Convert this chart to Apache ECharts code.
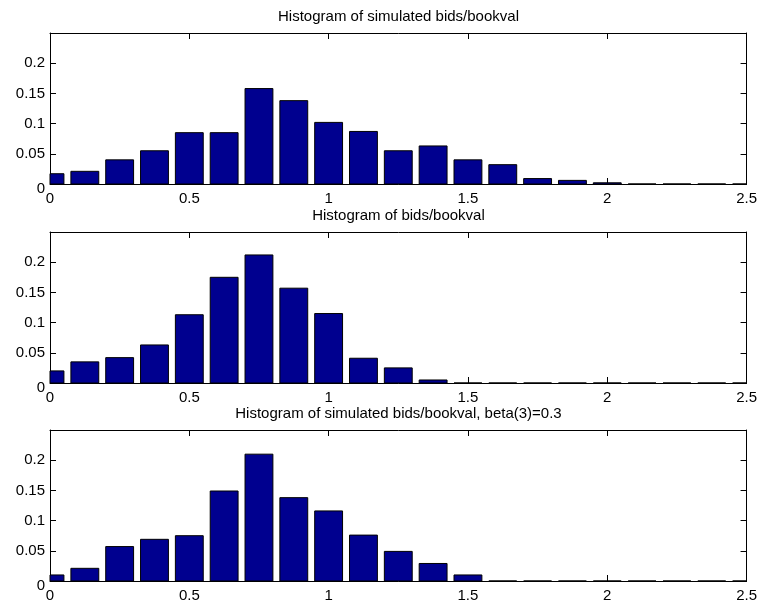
<!DOCTYPE html>
<html>
<head>
<meta charset="utf-8">
<script src="https://cdn.jsdelivr.net/npm/echarts@6/dist/echarts.min.js"></script>
<style>
  html, body { margin: 0; padding: 0; background: #fff; }
</style>
</head>
<body>
<div id="main" style="width:760px;height:606px"></div>
<script>
// bin centres (step 0.125)
var binCenters = [0, 0.125, 0.25, 0.375, 0.5, 0.625, 0.75, 0.875, 1, 1.125, 1.25,
  1.375, 1.5, 1.625, 1.75, 1.875, 2, 2.125, 2.25, 2.375, 2.5]

// relative frequencies
var simulated = [0.017, 0.021, 0.040, 0.055, 0.085, 0.085, 0.158, 0.138, 0.102, 0.087, 0.055,
  0.063, 0.040, 0.032, 0.009, 0.006, 0.002, 0, 0, 0, 0]
var observed = [0.020, 0.035, 0.042, 0.063, 0.113, 0.175, 0.212, 0.157, 0.115, 0.041, 0.025,
  0.005, 0, 0, 0, 0, 0, 0, 0, 0, 0]
var simulatedBeta = [0.010, 0.021, 0.057, 0.069, 0.075, 0.149, 0.210, 0.138, 0.116, 0.076, 0.049,
  0.029, 0.010, 0, 0, 0, 0, 0, 0, 0, 0]

var titles = [
  'Histogram of simulated bids/bookval',
  'Histogram of bids/bookval',
  'Histogram of simulated bids/bookval, beta(3)=0.3'
]
var panels = [simulated, observed, simulatedBeta]

var barWidth = 0.1// 柱宽(数据单位)
var gridTops = [33, 232, 430]// 每个子图的上边
var gridLeft = 50
var gridWidth = 697
var gridHeight = 151
var font = 'Liberation Sans, Arial, Helvetica, sans-serif'

// 柱子: 用坐标轴换算, 超出绘图区的部分裁掉
function renderBar (params, api) {
  var c = api.value(0)
  var v = api.value(1)
  var p0 = api.coord([c - barWidth / 2, v])
  var p1 = api.coord([c + barWidth / 2, 0])
  var rect = echarts.graphic.clipRectByRect({
    x: p0[0], y: p0[1], width: p1[0] - p0[0], height: p1[1] - p0[1]
  }, {
    x: params.coordSys.x, y: params.coordSys.y,
    width: params.coordSys.width, height: params.coordSys.height
  })
  return rect && {
    type: 'rect',
    shape: rect,
    style: { fill: '#00008f', stroke: '#000', lineWidth: 1 }
  }
}

var grids = []
var xAxes = []
var yAxes = []
var series = []
var texts = []

panels.forEach(function (values, i) {
  grids.push({ left: gridLeft, top: gridTops[i], width: gridWidth, height: gridHeight })
  var tick = { show: true, inside: true, length: 6, lineStyle: { color: '#000', width: 1 } }
  var line = { show: true, onZero: false, lineStyle: { color: '#000', width: 1 } }
  // bottom + top x axes
  xAxes.push({
    type: 'value', gridIndex: i, position: 'bottom', min: 0, max: 2.5, interval: 0.5,
    axisLine: line, axisTick: tick, splitLine: { show: false },
    axisLabel: { color: '#000', fontSize: 15, fontFamily: font, margin: 7 }
  })
  xAxes.push({
    type: 'value', gridIndex: i, position: 'top', min: 0, max: 2.5, interval: 0.5,
    axisLine: line, axisTick: tick, splitLine: { show: false }, axisLabel: { show: false }
  })
  // left + right y axes
  yAxes.push({
    type: 'value', gridIndex: i, position: 'left', min: 0, max: 0.25, interval: 0.05,
    axisLine: line, axisTick: tick, splitLine: { show: false },
    axisLabel: {
      color: '#000', fontSize: 15, fontFamily: font, margin: 5, showMaxLabel: false,
      formatter: function (val) { return val === 0 ? '{z|0}' : String(val) },
      rich: { z: { color: '#000', fontSize: 15, fontFamily: font, padding: [10, 0, 0, 0] } }
    }
  })
  yAxes.push({
    type: 'value', gridIndex: i, position: 'right', min: 0, max: 0.25, interval: 0.05,
    axisLine: line, axisTick: tick, splitLine: { show: false }, axisLabel: { show: false }
  })
  series.push({
    type: 'custom',
    xAxisIndex: i * 2,
    yAxisIndex: i * 2,
    renderItem: renderBar,
    encode: { x: 0, y: 1 },
    data: binCenters.map(function (c, k) { return [c, values[k]] })
  })
  texts.push({
    type: 'text',
    x: gridLeft + gridWidth / 2,
    y: gridTops[i] - 16,
    style: {
      text: titles[i],
      fill: '#000',
      font: '15px ' + font,
      textAlign: 'center',
      textVerticalAlign: 'middle'
    }
  })
})

var myChart = echarts.init(document.getElementById('main'))
myChart.setOption({
  animation: false,
  backgroundColor: '#fff',
  grid: grids,
  xAxis: xAxes,
  yAxis: yAxes,
  series: series,
  graphic: texts
})
</script>
</body>
</html>
